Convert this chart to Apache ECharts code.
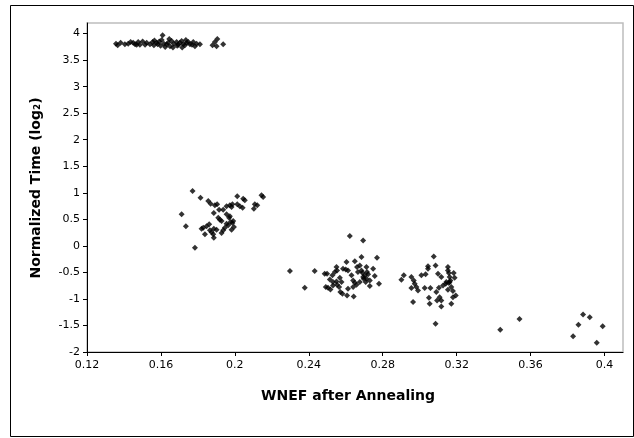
<!DOCTYPE html>
<html>
<head>
<meta charset="utf-8">
<script src="https://cdn.jsdelivr.net/npm/echarts@6/dist/echarts.min.js"></script>
<style>
html,body{margin:0;padding:0;background:#fff;}
#chart{width:634px;height:438px;}
</style>
</head>
<body>
<div id="chart"></div>
<script>
// Axis ticks
var xTicks = [0.12, 0.16, 0.2, 0.24, 0.28, 0.32, 0.36, 0.4];
var yTicks = [-2, -1.5, -1, -0.5, 0, 0.5, 1, 1.5, 2, 2.5, 3, 3.5, 4];
var xTitle = 'WNEF after Annealing';
var yTitle = 'Normalized Time (log\u2082)';

// Cluster A (top)
var clusterAx = [0.1357,0.1366,0.1382,0.1405,0.1423,0.1436,0.1450,0.1460,0.1469,0.1477,0.1486,0.1501,0.1514,0.1523,0.1541,0.1555,0.1562,0.1577,0.1591,0.1604,0.1609,0.1616,0.1623,0.1631,0.1639,0.1649,0.1658,0.1670,0.1685,0.1694,0.1703,0.1712,0.1721,0.1730,0.1739,0.1748,0.1757,0.1775,0.1784,0.1793,0.1811,0.1879,0.1892,0.1901,0.1937,0.1565,0.1598,0.1645,0.1665,0.1688,0.1715,0.1735,0.1768,0.1582,0.1905];
var clusterAy = [3.81,3.78,3.83,3.80,3.81,3.84,3.83,3.80,3.79,3.84,3.79,3.85,3.79,3.83,3.80,3.84,3.78,3.83,3.85,3.88,3.97,3.81,3.75,3.80,3.83,3.76,3.86,3.81,3.84,3.79,3.83,3.86,3.80,3.78,3.83,3.84,3.80,3.84,3.76,3.81,3.80,3.78,3.84,3.76,3.80,3.87,3.77,3.90,3.74,3.77,3.74,3.88,3.79,3.80,3.90];

// Cluster B
var clusterBx = [0.1771,0.1814,0.1856,0.1869,0.1892,0.1904,0.1886,0.1712,0.1915,0.1937,0.1955,0.1973,0.1982,0.1987,0.2013,0.2045,0.2054,0.2013,0.2027,0.2042,0.2108,0.2121,0.2103,0.2144,0.2153,0.1955,0.1973,0.1910,0.1919,0.1928,0.1977,0.1987,0.1991,0.1964,0.1946,0.1937,0.1928,0.1901,0.1886,0.1861,0.1847,0.1829,0.1820,0.1865,0.1874,0.1883,0.1838,0.1886,0.1735,0.1784,0.1982,0.1969,0.1955,0.1995];
var clusterBy = [1.035,0.909,0.846,0.796,0.764,0.783,0.619,0.594,0.682,0.682,0.745,0.764,0.732,0.783,0.934,0.889,0.859,0.783,0.745,0.720,0.783,0.764,0.701,0.953,0.921,0.594,0.557,0.532,0.494,0.469,0.450,0.431,0.469,0.387,0.343,0.293,0.243,0.306,0.325,0.406,0.368,0.343,0.325,0.293,0.255,0.217,0.217,0.155,0.368,-0.034,0.306,0.532,0.418,0.356];

// Cluster C
var clusterCx = [0.2298,0.2378,0.2432,0.2486,0.2499,0.2514,0.2528,0.2541,0.2550,0.2553,0.2568,0.2577,0.2531,0.2504,0.2492,0.2517,0.2553,0.2564,0.2571,0.2604,0.2600,0.2612,0.2622,0.2631,0.2640,0.2649,0.2649,0.2661,0.2666,0.2676,0.2685,0.2694,0.2690,0.2694,0.2703,0.2712,0.2721,0.2712,0.2730,0.2730,0.2748,0.2757,0.2769,0.2780,0.2676,0.2658,0.2640,0.2612,0.2607,0.2643,0.2582,0.2531,0.2585,0.2550,0.2685,0.2708,0.2697,0.2715];
var clusterCy = [-0.475,-0.789,-0.475,-0.525,-0.525,-0.632,-0.556,-0.494,-0.399,-0.462,-0.600,-0.682,-0.682,-0.789,-0.776,-0.821,-0.733,-0.776,-0.871,-0.305,-0.444,-0.462,0.185,-0.556,-0.651,-0.694,-0.292,-0.399,-0.494,-0.368,-0.210,0.103,-0.506,-0.588,-0.556,-0.619,-0.537,-0.399,-0.651,-0.758,-0.431,-0.569,-0.223,-0.713,-0.682,-0.733,-0.776,-0.808,-0.934,-0.953,-0.900,-0.746,-0.431,-0.670,-0.462,-0.682,-0.619,-0.494];

// Cluster D
var clusterDx = [0.2901,0.2914,0.2955,0.2968,0.2973,0.2982,0.2991,0.2955,0.3009,0.3032,0.3045,0.3045,0.3076,0.3086,0.3099,0.3117,0.3104,0.3090,0.3058,0.3027,0.3050,0.3054,0.2964,0.3094,0.3108,0.3117,0.3117,0.3126,0.3141,0.3153,0.3153,0.3158,0.3162,0.3166,0.3158,0.3171,0.3180,0.3184,0.3189,0.3195,0.3180,0.3171,0.3153,0.3144,0.3162,0.3086,0.3436,0.3540];
var clusterDy = [-0.638,-0.556,-0.588,-0.651,-0.713,-0.776,-0.839,-0.795,-0.556,-0.537,-0.386,-0.431,-0.198,-0.368,-0.525,-0.588,-0.789,-0.871,-0.795,-0.795,-0.978,-1.091,-1.060,-1.028,-0.966,-1.028,-1.142,-0.746,-0.713,-0.399,-0.462,-0.513,-0.588,-0.651,-0.701,-0.776,-0.852,-0.513,-0.600,-0.934,-0.966,-1.091,-0.827,-0.682,-0.682,-1.468,-1.582,-1.380];

// Cluster E (far right)
var clusterEx = [0.3830,0.3859,0.3884,0.3920,0.3990,0.3958];
var clusterEy = [-1.702,-1.487,-1.292,-1.343,-1.513,-1.826];

function pairs(xs, ys) {
  var out = [];
  for (var i = 0; i < xs.length; i++) out.push([xs[i], ys[i]]);
  return out;
}
var points = [].concat(
  pairs(clusterAx, clusterAy),
  pairs(clusterBx, clusterBy),
  pairs(clusterCx, clusterCy),
  pairs(clusterDx, clusterDy),
  pairs(clusterEx, clusterEy)
);

var FONT = '"DejaVu Sans", Verdana, sans-serif';
var chart = echarts.init(document.getElementById('chart'), null, {renderer: 'canvas'});
chart.setOption({
  animation: false,
  backgroundColor: '#fff',
  grid: {
    left: 87, top: 23, right: 11, bottom: 86,
    show: true, borderColor: '#bdbdbd', borderWidth: 1.5, backgroundColor: 'transparent'
  },
  xAxis: {
    type: 'value', min: 0.12, max: 0.41,
    axisLine: {onZero: false, lineStyle: {color: '#000', width: 1}},
    axisTick: {show: true, length: 4, customValues: xTicks, lineStyle: {color: '#000'}},
    axisLabel: {customValues: xTicks, color: '#000', fontFamily: FONT, fontSize: 11, margin: 8},
    splitLine: {show: false}
  },
  yAxis: {
    type: 'value', min: -2, max: 4.2,
    axisLine: {onZero: false, lineStyle: {color: '#000', width: 1}},
    axisTick: {show: true, length: 4, customValues: yTicks, lineStyle: {color: '#000'}},
    axisLabel: {customValues: yTicks, color: '#000', fontFamily: FONT, fontSize: 11, margin: 7},
    splitLine: {show: false}
  },
  graphic: [
    {type: 'rect', shape: {x: 10.5, y: 5.5, width: 623, height: 431}, style: {fill: 'none', stroke: '#000', lineWidth: 1}, silent: true},
    {type: 'text', x: 348, y: 396, style: {text: xTitle, font: 'bold 14px ' + FONT, fill: '#000', textAlign: 'center', textVerticalAlign: 'middle'}},
    {type: 'text', x: 36, y: 188, rotation: Math.PI / 2, style: {text: yTitle, font: 'bold 14px ' + FONT, fill: '#000', textAlign: 'center', textVerticalAlign: 'middle'}}
  ],
  series: [{
    type: 'scatter',
    data: points,
    symbol: 'diamond',
    symbolSize: 6,
    itemStyle: {color: '#000'}
  }]
});
</script>
</body>
</html>
